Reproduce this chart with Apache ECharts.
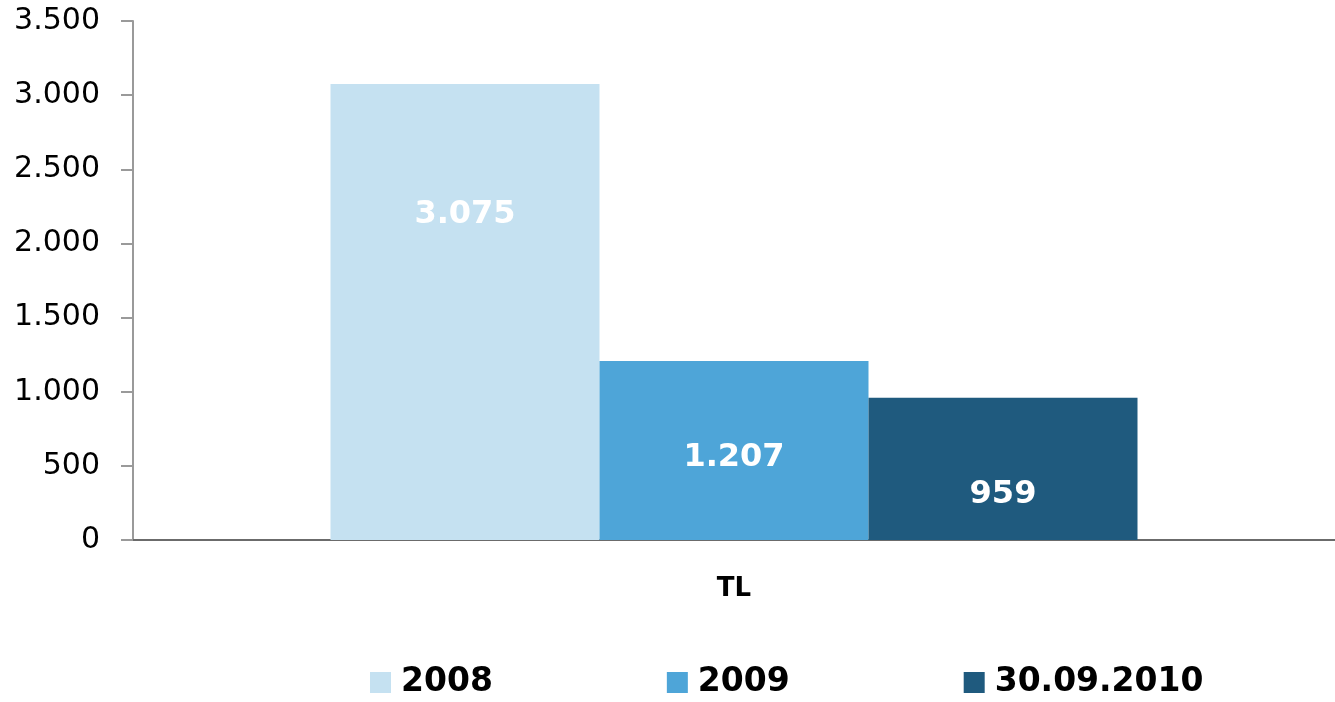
<!DOCTYPE html>
<html>
<head>
<meta charset="utf-8">
<script src="https://cdn.jsdelivr.net/npm/echarts@6/dist/echarts.min.js"></script>
<style>
html,body{margin:0;padding:0;background:#fff;}
#chart{width:1335px;height:702px;}
</style>
</head>
<body>
<div id="chart"></div>
<script>
const categories = ['TL'];
const seriesNames = ['2008', '2009', '30.09.2010'];
const values2008 = [3075];
const values2009 = [1207];
const values2010 = [959];
const yTicks = [0, 500, 1000, 1500, 2000, 2500, 3000, 3500];

const colors = ['#C5E1F1', '#4EA5D8', '#1F5A7E'];
const labelOffsets = [[0, -97], [0, 7], [0, 26]];
const seriesValues = [values2008, values2009, values2010];

function fmt(v) {
  return String(v).replace(/\B(?=(\d{3})+(?!\d))/g, '.');
}

const chart = echarts.init(document.getElementById('chart'));
chart.setOption({
  animation: false,
  backgroundColor: '#ffffff',
  grid: { left: 133, width: 1210, top: 21, height: 519, containLabel: false },
  legend: {
    left: 370,
    top: 666,
    padding: 0,
    itemWidth: 21,
    itemHeight: 21,
    itemGap: 174,
    icon: 'rect',
    textStyle: { fontFamily: 'DejaVu Sans', fontWeight: 'bold', fontSize: 33, color: '#000', padding: [0, 0, 0, 5] },
    data: seriesNames
  },
  xAxis: {
    type: 'category',
    data: categories,
    axisLine: { show: true, lineStyle: { color: '#6b6b6b', width: 2 } },
    axisTick: { show: false },
    axisLabel: { margin: 36, fontFamily: 'DejaVu Sans', fontWeight: 'bold', fontSize: 26, color: '#000' }
  },
  yAxis: {
    type: 'value',
    min: yTicks[0],
    max: yTicks[yTicks.length - 1],
    interval: 500,
    splitLine: { show: false },
    axisLine: { show: true, lineStyle: { color: '#9a9a9a', width: 2 } },
    axisTick: { show: true, length: 12, inside: false, lineStyle: { color: '#9a9a9a', width: 2 } },
    axisLabel: { margin: 33, fontFamily: 'DejaVu Sans', fontSize: 30, color: '#000', formatter: v => fmt(v) }
  },
  series: seriesNames.map((name, i) => ({
    name: name,
    type: 'bar',
    barWidth: 269,
    barGap: '0%',
    itemStyle: { color: colors[i] },
    label: {
      show: true,
      position: 'inside',
      offset: labelOffsets[i],
      color: '#ffffff',
      fontFamily: 'DejaVu Sans',
      fontWeight: 'bold',
      fontSize: 32,
      formatter: p => fmt(p.value)
    },
    data: seriesValues[i]
  }))
});
</script>
</body>
</html>
